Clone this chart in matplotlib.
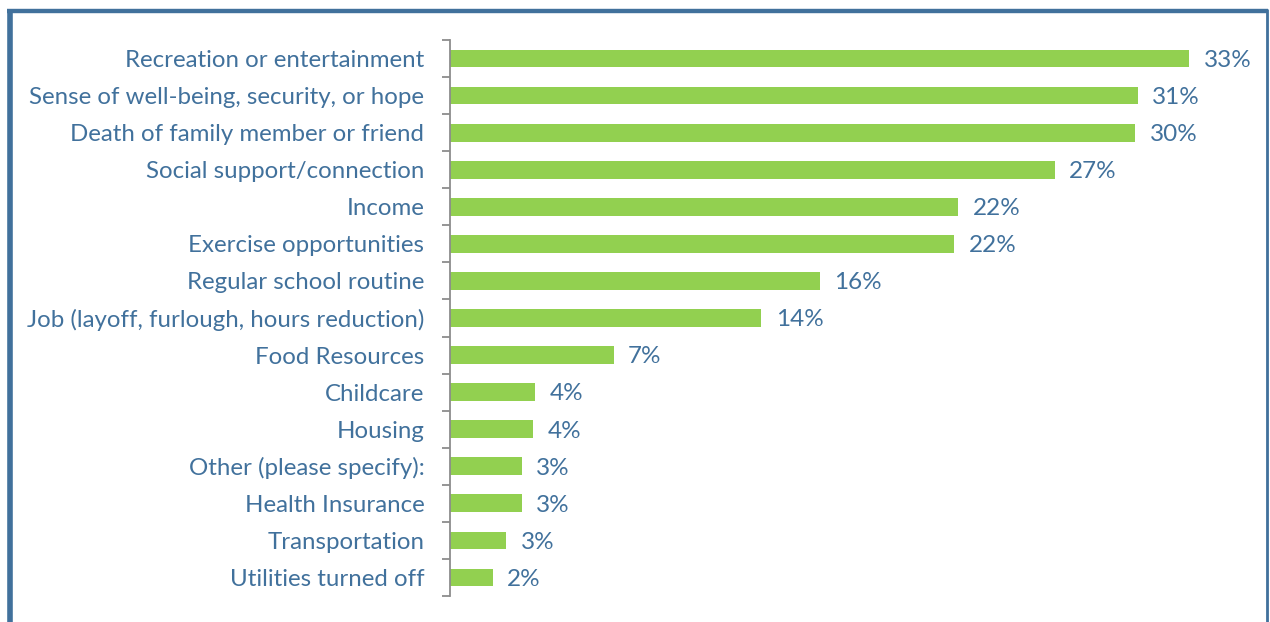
import matplotlib
matplotlib.use("Agg")
import matplotlib.pyplot as plt
from matplotlib.lines import Line2D
import numpy as np

categories = [
    "Recreation or entertainment",
    "Sense of well-being, security, or hope",
    "Death of family member or friend",
    "Social support/connection",
    "Income",
    "Exercise opportunities",
    "Regular school routine",
    "Job (layoff, furlough, hours reduction)",
    "Food Resources",
    "Childcare",
    "Housing",
    "Other (please specify):",
    "Health Insurance",
    "Transportation",
    "Utilities turned off",
]
values = [33.0, 30.7, 30.6, 27.0, 22.7, 22.5, 16.5, 13.9, 7.3, 3.8, 3.7, 3.2, 3.2, 2.5, 1.9]
labels = ["33%", "31%", "30%", "27%", "22%", "22%", "16%", "14%", "7%", "4%", "4%", "3%", "3%", "3%", "2%"]

W, H = 1270, 622
fig = plt.figure(figsize=(W / 100, H / 100), dpi=100)
plt.rcParams['font.family'] = ['Lato', 'DejaVu Sans']

text_color = "#41719C"
bar_color = "#92D050"

ax_left, ax_right = 450, 1230
ax_top, ax_bottom = 40, 596
ax = fig.add_axes([ax_left / W, 1 - ax_bottom / H, (ax_right - ax_left) / W, (ax_bottom - ax_top) / H])

n = len(categories)
y = np.arange(n)
ax.barh(y, values, height=0.48, color=bar_color, zorder=2)
ax.set_ylim(n - 0.5, -0.5)
ax.set_xlim(0, (ax_right - ax_left) / 22.4)

ax.set_yticks(y)
ax.set_yticklabels(categories, fontsize=17.3, color=text_color)
ax.tick_params(axis='y', which='major', length=0, pad=18.5)
ax.set_yticks(np.arange(-0.5, n, 1), minor=True)
ax.tick_params(axis='y', which='minor', length=6, width=1.3, color="#8C8C8C")
ax.set_xticks([])

for s in ["top", "right", "bottom"]:
    ax.spines[s].set_visible(False)
ax.spines["left"].set_color("#8C8C8C")
ax.spines["left"].set_linewidth(1.3)

for yi, v, lab in zip(y, values, labels):
    ax.text(v + 0.65, yi + 0.05, lab, va="center", ha="left", fontsize=17.5, color=text_color)

# outer border (bottom edge outside the image)
def fig_line(x0, y0, x1, y1, lw_px):
    fig.add_artist(Line2D([x0 / W, x1 / W], [1 - y0 / H, 1 - y1 / H],
                          transform=fig.transFigure, color=text_color,
                          linewidth=lw_px * 0.72, solid_capstyle="butt"))

fig_line(9.8, 9, 9.8, 640, 5.6)
fig_line(7, 11.2, 1268.3, 11.2, 4.4)
fig_line(1267, 9, 1267, 640, 2.8)

fig.savefig("out.png", dpi=100)
